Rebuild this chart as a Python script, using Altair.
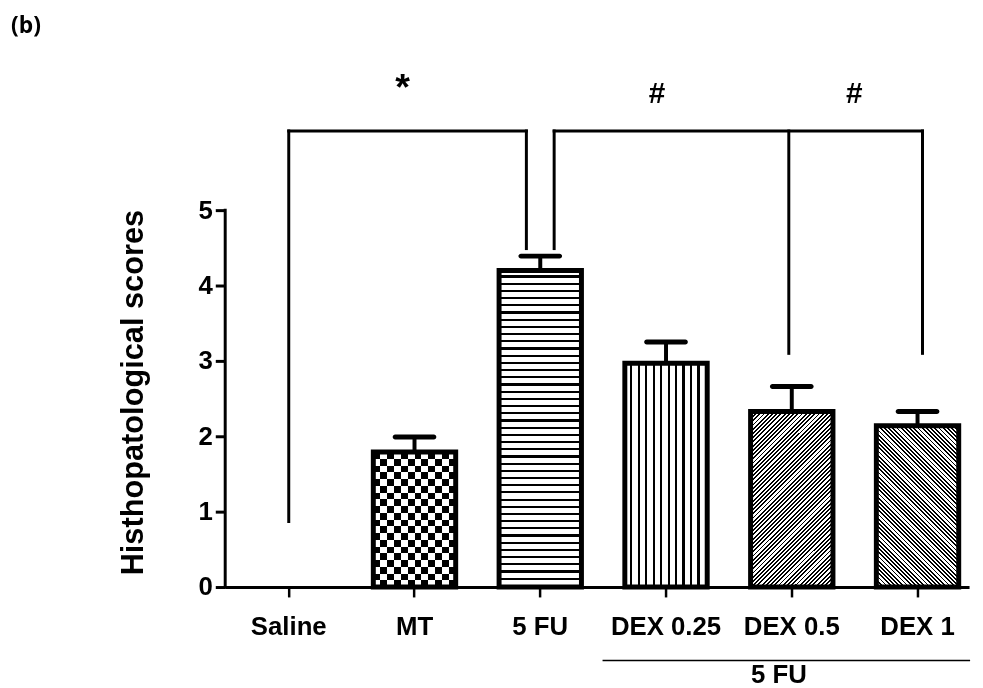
import math
import altair as alt
import pandas as pd

# ---------------- data ----------------
categories = ["Saline", "MT", "5 FU", "DEX 0.25", "DEX 0.5", "DEX 1"]
means = [0.0, 1.79, 4.20, 2.97, 2.33, 2.14]
sems = [0.0, 0.20, 0.19, 0.28, 0.33, 0.19]
y_ticks = [0, 1, 2, 3, 4, 5]

bracket_top = 6.05
saline_drop = 0.87
fu_drop = 4.49
dex_drop = 3.10
star_level = 6.46
hash_level = 6.42
star_text = "*"
hash_text = "#"
group_label = "5 FU"
y_title = "Histhopatological scores"
panel_label = "(b)"

# ---------------- layout / style ----------------
PX = 76            # pixels per score unit
W = 750
H = 7 * PX
BAR_W = 83
FONT = "Liberation Sans"

x_scale = alt.Scale(domain=categories, paddingInner=0.345, paddingOuter=0.13, align=0.684)
y_scale = alt.Scale(domain=[0, 7], nice=False)

x_axis = alt.Axis(
    title=None, labelAngle=0, labelFont=FONT, labelFontWeight="bold", labelFontSize=26,
    labelColor="black", labelPadding=17, tickSize=10, tickWidth=2.5, tickColor="black",
    domainColor="black", domainWidth=3, grid=False,
)
y_axis = alt.Axis(
    title=None, values=y_ticks, domain=False, labelFont=FONT, labelFontWeight="bold",
    labelFontSize=26, labelColor="black", labelPadding=3, tickSize=10, tickWidth=3,
    tickColor="black", grid=False,
)


def X(field):
    return alt.X(f"{field}:N", scale=x_scale, axis=x_axis, title=None, sort=categories)


def Y(field):
    return alt.Y(f"{field}:Q", scale=y_scale, axis=y_axis, title=None)


def stripe_gradient(n, dark, x1, y1, x2, y2, light_c="white", dark_c="black"):
    stops = []
    for i in range(n):
        a = i / n
        m = (i + 1 - dark) / n
        b = (i + 1) / n
        stops += [(a, light_c), (m, light_c), (m, dark_c), (b, dark_c)]
    return alt.LinearGradient(
        gradient="linear",
        stops=[alt.GradientStop(offset=min(1.0, round(o, 6)), color=c) for o, c in stops],
        x1=x1, y1=y1, x2=x2, y2=y2,
    )


def diag_params(h, w, rising=True):
    k = (w + h) * h / (h * h + w * w)
    if rising:   # "/" lines
        return dict(x1=0, y1=0, x2=k * w / h, y2=k)
    return dict(x1=0, y1=1, x2=k * w / h, y2=1 - k)   # "\" lines


df = pd.DataFrame({"cat": categories, "mean": means, "sem": sems})
df["top"] = df["mean"] + df["sem"]
bars_df = df[df["mean"] > 0]


def one(cat):
    return alt.Chart(df[df["cat"] == cat])


layers = []

# MT: checkerboard (vertical stripes, horizontal stripes blended by difference)
h_mt = means[1] * PX
layers.append(one("MT").mark_bar(fill=stripe_gradient(6, 0.5, 0, 0, 1, 0)).encode(x=X("cat"), y=Y("mean")))
layers.append(one("MT").mark_bar(fill=stripe_gradient(round(h_mt / 13.8), 0.5, 0, 0, 0, 1), blend="difference")
              .encode(x=X("cat"), y=Y("mean")))
# 5 FU: horizontal lines
h_fu = means[2] * PX
layers.append(one("5 FU").mark_bar(fill=stripe_gradient(round(h_fu / 7.3), 0.3, 0, 0, 0, 1))
              .encode(x=X("cat"), y=Y("mean")))
# DEX 0.25: vertical lines
layers.append(one("DEX 0.25").mark_bar(fill=stripe_gradient(round(BAR_W / 7.5), 0.3, 0, 0, 1, 0))
              .encode(x=X("cat"), y=Y("mean")))
# DEX 0.5: rising diagonal
h_d5 = means[4] * PX
n_d5 = round((BAR_W + h_d5) / (math.sqrt(2) * 3.0))
layers.append(one("DEX 0.5").mark_bar(fill=stripe_gradient(n_d5, 0.45, **diag_params(h_d5, BAR_W, True)))
              .encode(x=X("cat"), y=Y("mean")))
# DEX 1: falling diagonal
h_d1 = means[5] * PX
n_d1 = round((BAR_W + h_d1) / (math.sqrt(2) * 3.0))
layers.append(one("DEX 1").mark_bar(fill=stripe_gradient(n_d1, 0.45, **diag_params(h_d1, BAR_W, False)))
              .encode(x=X("cat"), y=Y("mean")))

# error bars
layers.append(alt.Chart(bars_df).mark_rule(color="black", strokeWidth=4)
              .encode(x=X("cat"), y=Y("mean"), y2="top:Q"))
layers.append(alt.Chart(bars_df).mark_tick(color="black", opacity=1, size=44, thickness=5, cornerRadius=2.5)
              .encode(x=X("cat"), y=Y("top")))

# bar outlines
layers.append(alt.Chart(bars_df).mark_bar(fillOpacity=0, stroke="black", strokeWidth=5)
              .encode(x=X("cat"), y=Y("mean")))

# y axis line (0..5 only)
axis_df = pd.DataFrame({"lo": [0], "hi": [y_ticks[-1]]})
layers.append(alt.Chart(axis_df).mark_rule(color="black", strokeWidth=3, strokeCap="square")
              .encode(x=alt.value(0), y=Y("lo"), y2="hi:Q"))


# significance brackets
def vline(cat, lo, hi, dx):
    d = pd.DataFrame({"cat": [cat], "lo": [lo], "hi": [hi]})
    return alt.Chart(d).mark_rule(color="black", strokeWidth=3, xOffset=dx, strokeCap="square").encode(
        x=X("cat"), y=Y("lo"), y2="hi:Q")


def hline(c1, dx1, c2, dx2, level):
    d = pd.DataFrame({"c1": [c1], "c2": [c2], "lv": [level]})
    return alt.Chart(d).mark_rule(color="black", strokeWidth=3, xOffset=dx1, x2Offset=dx2,
                                  strokeCap="square").encode(x=X("c1"), x2="c2:N", y=Y("lv"))


layers += [
    vline("Saline", saline_drop, bracket_top, 0),
    vline("5 FU", fu_drop, bracket_top, -14),
    vline("5 FU", fu_drop, bracket_top, 14),
    vline("DEX 0.5", dex_drop, bracket_top, -3),
    vline("DEX 1", dex_drop, bracket_top, 5),
    hline("Saline", 0, "5 FU", -14, bracket_top),
    hline("5 FU", 14, "DEX 1", 5, bracket_top),
]


def label(cat, level, txt, dx, size):
    d = pd.DataFrame({"cat": [cat], "lv": [level], "t": [txt]})
    return alt.Chart(d).mark_text(font=FONT, fontWeight="bold", fontSize=size, dx=dx, color="black",
                                  align="center", baseline="alphabetic").encode(
        x=X("cat"), y=Y("lv"), text="t:N")


layers += [
    label("MT", star_level, star_text, -12, 38),
    label("DEX 0.25", hash_level, hash_text, -9, 30),
    label("DEX 0.5", hash_level, hash_text, 63, 30),
]

# group line under DEX labels + "5 FU"
gdf = pd.DataFrame({"c1": ["DEX 0.25"], "c2": ["DEX 1"], "t": [group_label]})
layers.append(alt.Chart(gdf).mark_rule(color="black", strokeWidth=1.5, xOffset=-64, x2Offset=53)
              .encode(x=X("c1"), x2="c2:N", y=alt.value(606)))
layers.append(alt.Chart(gdf).mark_text(font=FONT, fontWeight="bold", fontSize=26, dx=-13, color="black",
                                       align="center", baseline="alphabetic")
              .encode(x=alt.X("c2:N", scale=x_scale, axis=x_axis, title=None), y=alt.value(629), text="t:N")
              .transform_calculate(c2="'DEX 0.5'"))

# y title and panel label
tdf = pd.DataFrame({"t": [y_title], "p": [panel_label]})
layers.append(alt.Chart(tdf).mark_text(font=FONT, fontWeight="bold", fontSize=31, angle=270, color="black",
                                       align="center", baseline="alphabetic")
              .encode(x=alt.value(-83), y=alt.value(336), text="t:N"))
layers.append(alt.Chart(tdf).mark_text(font="Open Sans", fontWeight="bold", fontSize=23, color="black",
                                       align="left", baseline="alphabetic")
              .encode(x=alt.value(-216), y=alt.value(-27), text="p:N"))

chart = alt.layer(*layers).properties(
    width=W, height=H,
    autosize=alt.AutoSizeParams(type="none"),
    padding={"left": 219, "top": 49, "right": 6, "bottom": 99},
).configure_view(stroke=None)

chart.save("out.html", embed_options={"renderer": "svg", "actions": False})
